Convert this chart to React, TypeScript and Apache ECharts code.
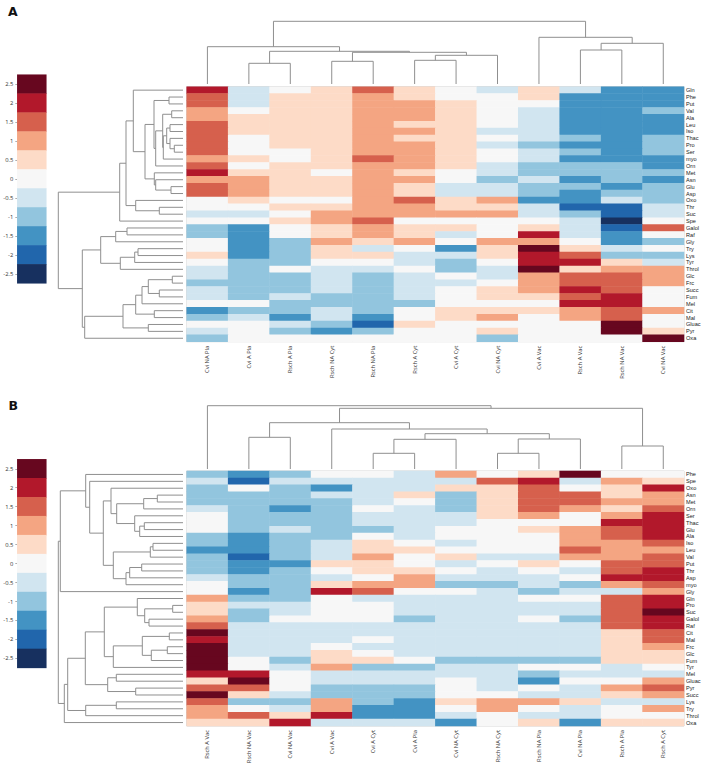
import React, { useEffect, useRef } from "react";
import * as echarts from "echarts";

// Heat values are stored in legend steps; one step is 0.5 on the colour scale.
const STEP = 0.5;
const legendValues = [2.5, 2, 1.5, 1, 0.5, 0, -0.5, -1, -1.5, -2, -2.5];
const legendColors = ["#67071f", "#b2182b", "#d6604d", "#f4a582", "#fddbc7", "#f7f7f7", "#d1e5f0", "#92c5de", "#4393c3", "#2166ac", "#17305f"];

const colsA = ["Cvi NA Pla", "Cvi A Pla", "Rsch A Pla", "Rsch NA Cyt", "Rsch NA Pla", "Rsch A Cyt", "Cvi A Cyt", "Cvi NA Cyt", "Cvi A Vac", "Rsch A Vac", "Rsch NA Vac", "Cvi NA Vac"];
const rowsA = ["Gln", "Phe", "Put", "Val", "Ala", "Leu", "Iso", "Thac", "Pro", "Ser", "myo", "Orn", "Met", "Asn", "Glu", "Asp", "Oxo", "Thr", "Suc", "Spe", "Galol", "Raf", "Gly", "Try", "Lys", "Tyr", "Throl", "Glc", "Frc", "Succ", "Fum", "Mel", "Cit", "Mal", "Gluac", "Pyr", "Oxa"];
const valuesA = [
  [4, -1, 0, 1, 3, 1, 0, -1, 1, -1, -3, -3],
  [3, -1, 1, 1, 2, 1, 0, 0, 1, -3, -3, -3],
  [3, -1, 1, 1, 2, 2, 1, 0, 0, -3, -3, -3],
  [2, 0, 1, 1, 2, 2, 1, 0, -1, -3, -3, -2],
  [2, 1, 1, 1, 2, 2, 1, 0, -1, -3, -3, -3],
  [3, 1, 1, 1, 2, 1, 1, 0, -1, -3, -3, -3],
  [3, 1, 1, 1, 2, 2, 1, -1, -1, -3, -3, -3],
  [3, 0, 1, 1, 2, 1, 1, 0, -1, -2, -3, -2],
  [3, 0, 1, 1, 2, 2, 1, -1, -2, -3, -3, -2],
  [3, 0, 0, 1, 2, 2, 1, 0, -1, -2, -3, -2],
  [2, 1, 0, 1, 3, 2, 1, 0, -1, -3, -3, -3],
  [3, 0, 1, 1, 2, 2, 1, -1, -2, -2, -2, -3],
  [4, 1, 1, 0, 2, 1, 0, -1, -2, -2, -2, -2],
  [2, 2, 1, 1, 2, 2, 0, -2, -1, -3, -2, -3],
  [3, 2, 1, 1, 2, 1, -1, -1, -2, -2, -3, -2],
  [3, 2, 1, 1, 2, 1, -1, -1, -2, -3, -2, -2],
  [0, 1, 0, 0, 2, 3, 1, 2, -3, -3, -1, -2],
  [0, 0, 1, 1, 2, 2, 1, 1, -1, -4, -4, -1],
  [-1, -1, 0, 2, 2, 2, 2, 2, -1, -2, -4, -1],
  [0, 0, 1, 2, 3, 0, 0, 0, 0, -1, -5, 0],
  [-2, -3, 0, 1, 2, 1, 1, 0, 1, -1, -4, 3],
  [-2, -3, 0, 1, 2, 1, -1, 0, 4, -1, -3, 0],
  [0, -3, -2, 2, 1, 2, 0, 2, 2, 0, -3, -2],
  [0, -3, -2, 1, -1, 0, -3, 1, 5, 1, -1, 0],
  [1, -3, -2, 1, 1, -1, -1, 1, 4, 3, -2, -2],
  [0, -2, -2, 0, 0, -1, -2, 0, 4, 4, 1, -1],
  [-1, -2, 0, -1, -1, 0, -2, -1, 5, 1, 2, 2],
  [-1, -2, -2, -1, -2, -1, 0, -1, 2, 3, 3, 2],
  [-2, -2, -2, -1, -2, -1, -1, 0, 2, 3, 3, 2],
  [-1, -2, -2, -1, -2, -1, 0, 1, 2, 4, 3, 0],
  [-1, -2, -1, -2, -2, -1, 0, 1, 1, 3, 4, 0],
  [0, 0, -2, -2, -2, -2, 0, 0, 0, 4, 4, 0],
  [-3, -2, -2, -1, -2, 0, 1, 1, 1, 2, 3, 2],
  [-2, -1, -3, -1, -3, 0, 1, 2, 0, 2, 3, 0],
  [0, 0, -1, -2, -4, 1, 0, 0, 0, 0, 5, 0],
  [-1, 0, -2, -3, -2, 0, 0, 1, 0, 0, 5, 1],
  [-2, 0, 0, 0, 0, 0, 0, -2, 0, 0, 0, 5],
];

const colsB = ["Rsch A Vac", "Rsch NA Vac", "Cvi NA Vac", "Cvi A Vac", "Cvi A Cyt", "Cvi A Pla", "Cvi NA Cyt", "Rsch NA Cyt", "Rsch NA Pla", "Cvi NA Pla", "Rsch A Pla", "Rsch A Cyt"];
const rowsB = ["Phe", "Spe", "Oxo", "Asn", "Met", "Orn", "Ser", "Thac", "Glu", "Ala", "Iso", "Leu", "Val", "Put", "Thr", "Asp", "myo", "Gly", "Gln", "Pro", "Suc", "Galol", "Raf", "Cit", "Mal", "Frc", "Glc", "Fum", "Tyr", "Mel", "Gluac", "Pyr", "Succ", "Lys", "Try", "Throl", "Oxa"];
const valuesB = [
  [-2, -3, -2, 0, 0, -1, 2, 0, 1, 5, 0, 0],
  [-1, -4, -1, -1, -1, -1, -1, 3, 4, -1, 2, 1],
  [-2, 0, -2, -3, -1, -1, 1, 1, 3, 0, 1, 4],
  [-2, -2, -2, -1, -1, 1, -2, 1, 3, 3, 1, 2],
  [-2, -2, -2, -2, -1, 0, -2, 1, 3, 3, 2, 2],
  [-1, -2, -3, -2, 0, -1, -2, 1, 3, 2, 1, 3],
  [0, -2, -2, -2, -1, -1, -1, 1, 2, 0, 2, 4],
  [0, -2, -2, -2, -1, -1, -1, 0, 0, 0, 4, 4],
  [0, -2, -1, -2, -2, -1, 0, 0, 1, 2, 3, 4],
  [-2, -3, -2, -2, 0, -1, 0, 0, 0, 2, 3, 4],
  [-2, -3, -2, -1, 1, 0, -1, 0, 0, 2, 2, 3],
  [-3, -3, -2, -1, 1, 1, 0, 0, 0, 3, 2, 2],
  [-2, -4, -2, -1, 2, 0, 1, -1, -1, 2, 2, 3],
  [-2, -3, -3, 1, 1, 0, -1, 0, 1, 0, 3, 3],
  [-2, -3, -2, 0, 1, 1, 0, -1, 0, -1, 3, 4],
  [-1, -2, -2, -1, 0, 2, -1, -1, -1, 0, 4, 4],
  [0, -2, -2, 1, 2, 2, -2, -2, -1, -2, 2, 3],
  [0, -3, -2, 4, 3, 0, 0, -1, -2, -1, -1, 2],
  [2, -2, -2, 0, -1, -1, -1, -1, 0, 0, 3, 4],
  [1, -1, -1, 0, 0, -1, -1, -1, -1, -1, 3, 4],
  [1, -2, -1, 0, 0, -1, -1, -1, -1, -1, 3, 5],
  [2, -2, 0, 0, 0, -2, -1, -1, 0, -2, 3, 4],
  [3, -1, -1, -1, -1, -1, -1, -1, -1, -1, 3, 4],
  [5, -1, -1, -1, -1, -1, -1, -1, -1, -1, 1, 3],
  [4, -1, -1, -1, 0, -1, -1, -1, -1, -1, 1, 3],
  [5, -1, -1, 0, -1, -1, -1, -1, -1, -1, 1, 2],
  [5, -1, -1, 1, 0, -1, -1, -1, -1, -1, 1, 1],
  [5, 0, -2, 1, 1, 0, -2, -2, -2, -2, 1, 1],
  [5, 0, -1, 2, -2, -2, -1, -1, 0, 0, -1, 0],
  [4, 4, 0, -1, -1, -1, -1, -1, -2, -1, -1, -1],
  [1, 5, 0, -1, -1, -1, 0, -1, -3, 0, 0, 2],
  [3, 3, 0, -2, -2, -2, 0, -1, 0, -1, 2, 3],
  [5, 1, -1, -2, -2, -2, 0, 0, -1, -1, 1, 2],
  [3, -2, -2, 2, -2, -3, 1, 2, 2, 1, -1, -1],
  [2, 0, -1, 2, -3, -3, 0, 2, 0, -1, 0, 2],
  [2, 3, 1, 4, -3, -3, -1, 0, -1, -1, 0, 0],
  [1, 1, 4, -1, -1, -1, -3, 0, 1, -3, 1, 1],
];

// Dendrogram merges: [child, child, height]. Children below 100 are leaves, 100 + k is the k-th merge.
const topMergesA = [
  [1, 2, 20.7], [3, 4, 22.7], [5, 6, 23.7], [102, 7, 28.7], [101, 103, 31.7], [100, 104, 32.7],
  [0, 105, 37.3], [9, 10, 34], [107, 11, 40.7], [8, 108, 46.7], [106, 109, 62.7],
];
const leftMergesA = [
  [1, 2, 14], [3, 4, 11.3], [5, 6, 13], [8, 9, 8.7], [7, 103, 13], [102, 104, 16.3], [105, 10, 19.7],
  [101, 106, 20.3], [107, 11, 27.3], [100, 108, 29], [14, 15, 12], [13, 110, 27.3], [12, 111, 28.7],
  [109, 112, 38], [0, 113, 49.7], [17, 18, 23.7], [16, 115, 47.3], [114, 116, 57], [117, 19, 63.3],
  [20, 21, 56], [119, 22, 67.3], [23, 24, 45], [121, 25, 48.3], [122, 26, 62.7], [120, 123, 82.3],
  [27, 28, 10.7], [29, 30, 23.7], [125, 126, 34.7], [127, 31, 41], [32, 33, 28.7], [128, 129, 47.3],
  [34, 35, 34.7], [130, 131, 60], [132, 36, 98.3], [124, 133, 100.7], [118, 134, 124.7],
];
const topMergesB = [
  [1, 2, 31.7], [4, 5, 15.7], [101, 6, 29.7], [7, 8, 15.7], [103, 9, 30], [102, 104, 35.3],
  [3, 105, 40], [100, 106, 46.3], [10, 11, 23], [107, 108, 60.7], [0, 109, 63.3],
];
const leftMergesB = [
  [3, 4, 25.7], [100, 5, 39.3], [7, 8, 38.7], [102, 9, 43.3], [6, 103, 48.3], [101, 104, 66.3], [2, 105, 72],
  [10, 11, 30], [107, 12, 32.7], [13, 14, 41.3], [109, 15, 53.3], [110, 16, 57], [108, 111, 69.7],
  [106, 112, 79.7], [1, 113, 93.3], [0, 114, 97.3], [115, 17, 122.7], [19, 20, 10.3], [21, 22, 34],
  [117, 118, 38.3], [18, 119, 45.7], [23, 24, 13.7], [25, 26, 15.7], [122, 27, 31.7], [121, 123, 40.7],
  [124, 28, 69.7], [120, 125, 78.7], [29, 30, 66.7], [31, 32, 47.3], [127, 128, 75.3], [126, 129, 97.7],
  [33, 34, 66.7], [131, 35, 97.3], [130, 132, 115.3], [133, 36, 118.7], [116, 134, 124.7],
];

function treeLinks(merges: number[][]) {
  const pos: Record<number, number> = {};
  const hgt: Record<number, number> = {};
  const p = (n: number) => (n < 100 ? n + 0.5 : pos[n]);
  const h = (n: number) => (n < 100 ? 0 : hgt[n]);
  return merges.map(([a, b, height], k) => {
    const row = [p(a), h(a), p(b), h(b), height];
    pos[100 + k] = (p(a) + p(b)) / 2;
    hgt[100 + k] = height;
    return row;
  });
}

function cells(values: number[][]) {
  const out: number[][] = [];
  values.forEach((row, y) => row.forEach((v, x) => out.push([x, y, v * STEP])));
  return out;
}

const LINE = "#8f8f8f";
const HEAT_L = 186.7;
const HEAT_W = 497.3;
const HEAT_H = 255;
const TOP_H = 75;
const SIDE_W = 130;

function dendroSeries(gridIdx: number, merges: number[][], horizontal: boolean) {
  return {
    type: "custom",
    coordinateSystem: "cartesian2d",
    xAxisIndex: gridIdx,
    yAxisIndex: gridIdx,
    silent: true,
    clip: false,
    data: treeLinks(merges),
    renderItem: (_: any, api: any) => {
      const c = (pos: number, h: number) => api.coord(horizontal ? [h, pos] : [pos, h]);
      const a = api.value(0), ha = api.value(1), b = api.value(2), hb = api.value(3), h = api.value(4);
      return {
        type: "polyline",
        shape: { points: [c(a, ha), c(a, h), c(b, h), c(b, hb)] },
        style: { stroke: LINE, lineWidth: 1, fill: "none" },
      };
    },
  };
}

function buildOption() {
  const grids: any[] = [];
  const xAxes: any[] = [];
  const yAxes: any[] = [];
  const series: any[] = [];

  const panel = (heatTop: number, barTop: number, topBase: number, cols: string[], rows: string[], values: number[][], topM: number[][], leftM: number[][]) => {
    // heat map
    let g = grids.length;
    grids.push({ left: HEAT_L, top: heatTop, width: HEAT_W, height: HEAT_H, show: true, borderColor: "#cfcfcf", borderWidth: 1, backgroundColor: "transparent" });
    xAxes.push({
      type: "category", gridIndex: g, data: cols, position: "bottom",
      axisLine: { show: false }, axisTick: { show: false }, splitLine: { show: false },
      axisLabel: { interval: 0, rotate: 90, margin: 4, fontSize: 5.8, color: "#333", fontFamily: "Open Sans" },
    });
    yAxes.push({
      type: "category", gridIndex: g, data: rows, inverse: true, position: "right",
      axisLine: { show: false }, axisTick: { show: false }, splitLine: { show: false },
      axisLabel: { interval: 0, margin: 2, fontSize: 5.6, color: "#222", fontFamily: "Liberation Sans" },
    });
    series.push({ type: "heatmap", xAxisIndex: g, yAxisIndex: g, data: cells(values), silent: true });

    // colour key
    g = grids.length;
    grids.push({ left: 17.3, top: barTop, width: 29, height: 208.6 });
    xAxes.push({ type: "category", gridIndex: g, data: ["key"], show: false });
    yAxes.push({
      type: "category", gridIndex: g, data: legendValues.map(String), inverse: true,
      axisLine: { show: false }, axisTick: { show: true, alignWithLabel: true, length: 2, lineStyle: { color: "#777", width: 0.6 } },
      splitLine: { show: false },
      axisLabel: { interval: 0, margin: 4, fontSize: 5.8, color: "#333", fontFamily: "Open Sans" },
    });
    series.push({ type: "heatmap", xAxisIndex: g, yAxisIndex: g, silent: true, data: legendValues.map((v, i) => [0, i, v]) });

    // column dendrogram
    g = grids.length;
    grids.push({ left: HEAT_L, top: topBase - TOP_H, width: HEAT_W, height: TOP_H });
    xAxes.push({ type: "value", gridIndex: g, min: 0, max: cols.length, show: false });
    yAxes.push({ type: "value", gridIndex: g, min: 0, max: TOP_H, show: false });
    series.push(dendroSeries(g, topM, false));

    // row dendrogram
    g = grids.length;
    grids.push({ left: 183 - SIDE_W, top: heatTop, width: SIDE_W, height: HEAT_H });
    xAxes.push({ type: "value", gridIndex: g, min: 0, max: SIDE_W, inverse: true, show: false });
    yAxes.push({ type: "value", gridIndex: g, min: 0, max: rows.length, inverse: true, show: false });
    series.push(dendroSeries(g, leftM, true));
  };

  panel(86.7, 74.7, 84, colsA, rowsA, valuesA, topMergesA, leftMergesA);
  panel(471, 459.3, 469, colsB, rowsB, valuesB, topMergesB, leftMergesB);

  const heatIdx = series.map((s, i) => (s.type === "heatmap" ? i : -1)).filter((i) => i >= 0);

  return {
    animation: false,
    backgroundColor: "#fff",
    grid: grids,
    xAxis: xAxes,
    yAxis: yAxes,
    series,
    visualMap: {
      type: "piecewise", show: false, dimension: 2, seriesIndex: heatIdx,
      pieces: legendValues.map((v, i) => ({ value: v, color: legendColors[i] })),
    },
    graphic: [
      { type: "text", left: 8, top: 5, style: { text: "A", font: "bold 12.5px 'DejaVu Sans'", fill: "#111" } },
      { type: "text", left: 8.5, top: 399, style: { text: "B", font: "bold 12.5px 'DejaVu Sans'", fill: "#111" } },
    ],
  };
}

export default function App() {
  const ref = useRef<HTMLDivElement>(null);
  useEffect(() => {
    const chart = echarts.init(ref.current!, undefined, { renderer: "svg" });
    chart.setOption(buildOption() as any);
    return () => chart.dispose();
  }, []);
  return <div ref={ref} style={{ position: "absolute", left: 0, top: 0, width: 708, height: 767 }} />;
}
